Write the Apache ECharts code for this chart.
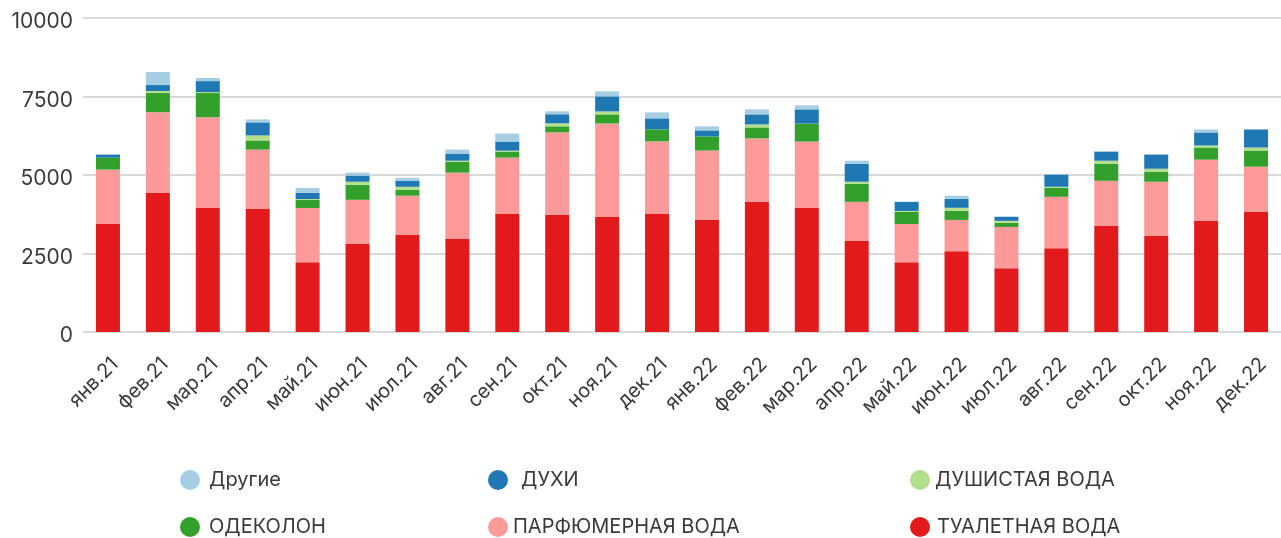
<!DOCTYPE html>
<html>
<head>
<meta charset="utf-8">
<script src="https://cdn.jsdelivr.net/npm/echarts@6/dist/echarts.min.js"></script>
<style>
  html, body { margin: 0; padding: 0; background: #fff; }
  #main_chart { width: 1281px; height: 538px; }
</style>
</head>
<body>
<div id="main_chart"></div>
<script>
// months
var months = ['янв.21','фев.21','мар.21','апр.21','май.21','июн.21','июл.21','авг.21','сен.21','окт.21','ноя.21','дек.21',
              'янв.22','фев.22','мар.22','апр.22','май.22','июн.22','июл.22','авг.22','сен.22','окт.22','ноя.22','дек.22'];

// values, one array per product group
var toiletWater  = [3440,4430,3950,3920,2220,2800,3090,2960,3760,3730,3660,3760, 3570,4145,3950,2895,2220,2575,2030,2670,3375,3055,3535,3825];
var perfumeWater = [1730,2570,2890,1890,1730,1410,1250,2115,1795,2630,2980,2310, 2210,2020,2115,1250,1220, 995,1315,1635,1440,1730,1955,1440];
var cologne      = [ 380, 610, 770, 290, 255, 480, 190, 350, 190, 190, 290, 385,  450, 350, 575, 575, 385, 290, 130, 290, 545, 320, 385, 515];
var scentedWater = [   0,  65,  30, 160,  30,  95,  95,  30,  30,  95,  95,   0,    0,  95,   0,  65,  30,  95,  65,  30,  95,  95,  65,  95];
var perfume      = [ 100, 190, 350, 415, 195, 195, 190, 225, 290, 290, 480, 350,  190, 320, 450, 575, 290, 290, 130, 385, 290, 450, 415, 575];
var other        = [   0, 415, 100,  95, 160,  95,  95, 130, 255,  95, 160, 190,  130, 160, 130,  95,   0,  95,   0,   0,   0,   0,  95,   0];

var yTicks = { min: 0, max: 10000, interval: 2500 };

var seriesDefs = [
    { name: 'ТУАЛЕТНАЯ ВОДА',   data: toiletWater,  color: '#e31a1c' },
    { name: 'ПАРФЮМЕРНАЯ ВОДА', data: perfumeWater, color: '#fb9a99' },
    { name: 'ОДЕКОЛОН',         data: cologne,      color: '#33a02c' },
    { name: 'ДУШИСТАЯ ВОДА',    data: scentedWater, color: '#b2df8a' },
    { name: 'ДУХИ',             data: perfume,      color: '#1f78b4' },
    { name: 'Другие',           data: other,        color: '#a6cee3' }
];

var FONT = 'Inter, Roboto, sans-serif';

// legend laid out as a 3 x 2 table, one legend per cell
var legendCells = [
    { name: 'Другие',           left: 180, top: 470, gap: 4 },
    { name: 'ДУХИ',             left: 488, top: 470, gap: 8 },
    { name: 'ДУШИСТАЯ ВОДА',    left: 910, top: 470, gap: 0 },
    { name: 'ОДЕКОЛОН',         left: 180, top: 517, gap: 4 },
    { name: 'ПАРФЮМЕРНАЯ ВОДА', left: 488, top: 517, gap: 0 },
    { name: 'ТУАЛЕТНАЯ ВОДА',   left: 910, top: 517, gap: 2 }
];

var chart = echarts.init(document.getElementById('main_chart'));

var option = {
    animation: false,
    color: seriesDefs.map(function (s) { return s.color; }),
    legend: legendCells.map(function (c) {
        return {
            data: [c.name],
            left: c.left,
            top: c.top,
            padding: 0,
            icon: 'circle',
            itemWidth: 20,
            itemHeight: 20,
            itemGap: 0,
            textStyle: { fontFamily: FONT, fontSize: 20, color: '#3a3a3a', padding: [0, 0, 0, c.gap] }
        };
    }),
    grid: { left: 83, width: 1208, top: 18, height: 314, containLabel: false },
    xAxis: {
        type: 'category',
        data: months,
        axisLine: { show: false },
        axisTick: { show: false },
        axisLabel: {
            rotate: 45,
            interval: 0,
            margin: 22,
            verticalAlign: 'top',
            fontFamily: FONT,
            fontSize: 20,
            color: '#3a3a3a'
        }
    },
    yAxis: {
        type: 'value',
        min: yTicks.min,
        max: yTicks.max,
        interval: yTicks.interval,
        axisLine: { show: false },
        axisTick: { show: false },
        axisLabel: {
            fontFamily: FONT, fontSize: 21, color: '#3a3a3a', margin: 10,
            verticalAlign: 'top',
            lineHeight: 8,
            formatter: function (v) { return String(v); }
        },
        splitLine: { lineStyle: { color: '#d9d9d9', width: 2 } }
    },
    series: seriesDefs.map(function (s) {
        return {
            name: s.name,
            type: 'bar',
            stack: 'total',
            barWidth: 24,
            itemStyle: { color: s.color },
            data: s.data
        };
    })
};

chart.setOption(option);
</script>
</body>
</html>
